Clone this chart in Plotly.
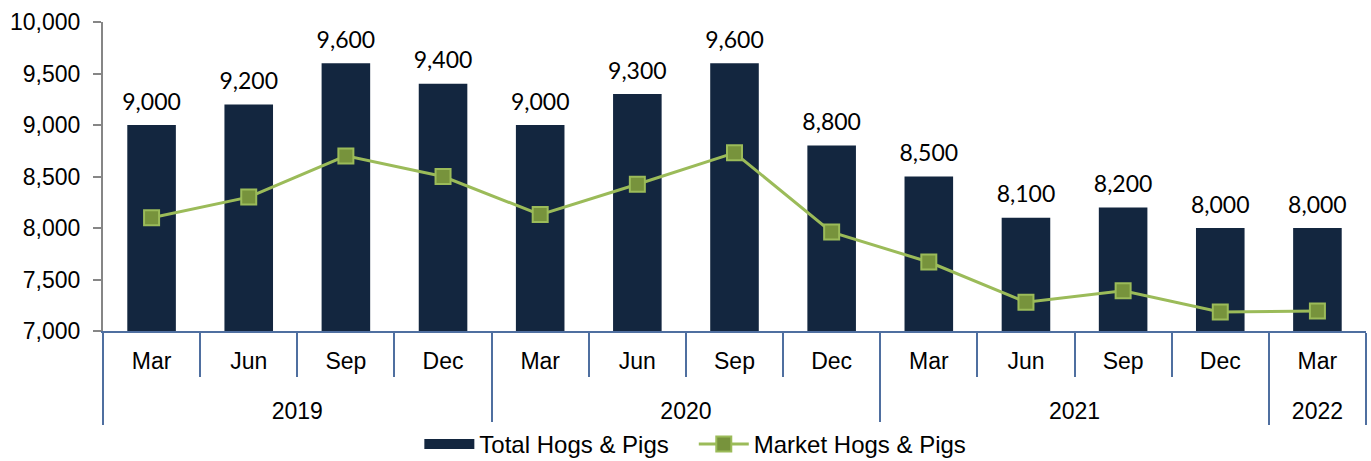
import plotly.graph_objects as go

years = ["2019"] * 4 + ["2020"] * 4 + ["2021"] * 4 + ["2022"]
months = ["Mar", "Jun", "Sep", "Dec", "Mar", "Jun", "Sep", "Dec", "Mar", "Jun", "Sep", "Dec", "Mar"]
total_hogs = [9000, 9200, 9600, 9400, 9000, 9300, 9600, 8800, 8500, 8100, 8200, 8000, 8000]
market_hogs = [8100, 8300, 8700, 8500, 8130, 8425, 8730, 7960, 7670, 7280, 7390, 7185, 7195]

NAVY = "#13263F"
GREEN = "#9BBB59"
# leading line break pushes the year row further below the month row
x = [["<br>" + y for y in years], months]

fig = go.Figure()
fig.add_trace(go.Bar(
    x=x, y=total_hogs, name="Total Hogs & Pigs",
    marker=dict(color=NAVY, line=dict(width=0)),
    width=0.5, showlegend=False,
))
# legend entry for bars drawn as a wide rectangle
fig.add_trace(go.Scatter(
    x=[None], y=[None], mode="lines", name="Total Hogs & Pigs\u00a0\u00a0\u00a0",
    line=dict(color=NAVY, width=14),
))
fig.add_trace(go.Scatter(
    x=x, y=market_hogs, name="Market Hogs & Pigs",
    mode="lines+markers",
    line=dict(color=GREEN, width=3),
    marker=dict(symbol="square", size=15, color="#77933C", line=dict(color=GREEN, width=2)),
))
# data labels above bars
fig.add_trace(go.Scatter(
    x=x, y=total_hogs, mode="markers+text",
    text=[f"{v:,}" for v in total_hogs], textposition="top center",
    textfont=dict(family="Lato", size=23, color="#000000"),
    marker=dict(size=14, opacity=0), showlegend=False, hoverinfo="skip",
))

fig.update_layout(
    width=1371, height=461,
    margin=dict(l=103, r=5, t=22, b=130, autoexpand=False),
    paper_bgcolor="white", plot_bgcolor="white",
    font=dict(family="Liberation Sans, Arial", size=23, color="#000000"),
    showlegend=True,
    legend=dict(orientation="h", x=0.469, xanchor="center",
                y=0.036, yref="container", yanchor="middle",
                font=dict(size=24), traceorder="normal", itemwidth=50),
    bargap=0.5,
)
fig.update_yaxes(
    range=[7000, 10000], dtick=500, tickformat=",d",
    showgrid=False, zeroline=False,
    showline=True, linecolor="#868686", linewidth=2,
    ticks="outside", ticklen=8, tickcolor="#868686", tickwidth=2,
    ticklabelstandoff=8,
    tickfont=dict(size=23), automargin=False,
)
fig.update_xaxes(
    type="multicategory", range=[-0.5, 12.5], automargin=False,
    showgrid=False, showline=True, linecolor="#4F6FA0", linewidth=2,
    ticks="outside", ticklen=44, tickcolor="#4F6FA0", tickwidth=2,
    showdividers=True, dividercolor="#4F6FA0", dividerwidth=2,
    ticklabelstandoff=8,
    tickfont=dict(size=23),
)

fig.write_html("out.html")
